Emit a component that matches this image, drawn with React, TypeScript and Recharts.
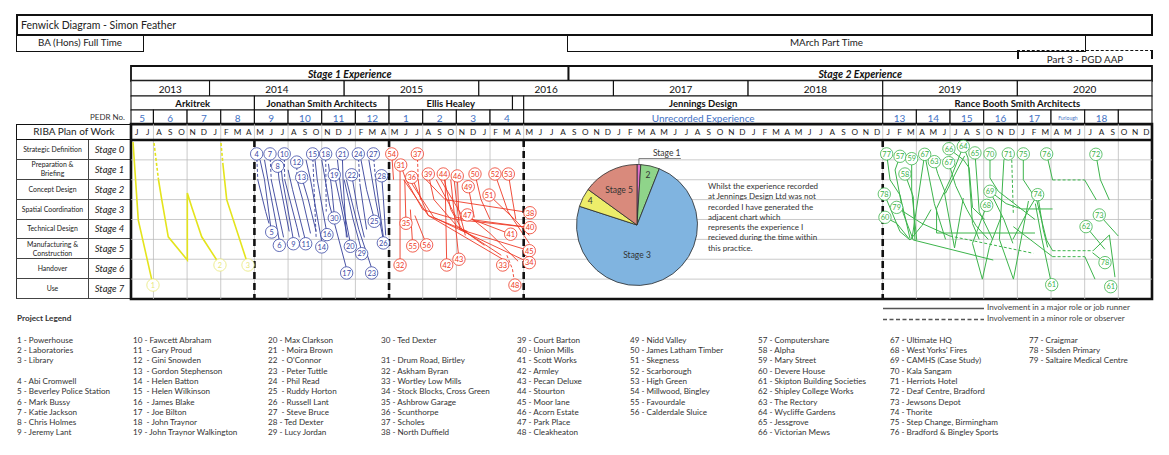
import React from "react";
import {
  ComposedChart,
  Line,
  Scatter,
  XAxis,
  YAxis,
  ReferenceArea,
  ReferenceLine,
  PieChart,
  Pie,
  Cell,
} from "recharts";

const FONT = "Lato, 'Open Sans', sans-serif";

type Pt = [number, number];
type Stroke = { p: number; dash?: boolean; pts: Pt[] };
type Tag = [string, number, number];
type Span = { label: string; from: number; to: number };

// month index 0 = June 2013, stage position 0 = top of Stage 0 row
const MONTHS = "JJASONDJFMAMJJASONDJFMAMJJASONDJFMAMJJASONDJFMAMJJASONDJFMAMJJASONDJFMAMJJASONDJFMAMJJASOND".split("");

const EXPERIENCE: Span[] = [
  { label: "Stage 1 Experience", from: 0, to: 39 },
  { label: "Stage 2 Experience", from: 39, to: 91 },
];

const YEARS: Span[] = [
  { label: "2013", from: 0, to: 7 },
  { label: "2014", from: 7, to: 19 },
  { label: "2015", from: 19, to: 31 },
  { label: "2016", from: 31, to: 43 },
  { label: "2017", from: 43, to: 55 },
  { label: "2018", from: 55, to: 67 },
  { label: "2019", from: 67, to: 79 },
  { label: "2020", from: 79, to: 91 },
];

const FIRMS: Span[] = [
  { label: "Arkitrek", from: 0, to: 11 },
  { label: "Jonathan Smith Architects", from: 11, to: 23 },
  { label: "Ellis Healey", from: 23, to: 34 },
  { label: "", from: 34, to: 35 },
  { label: "Jennings Design", from: 35, to: 67 },
  { label: "Rance Booth Smith Architects", from: 67, to: 91 },
];

const PEDR: Span[] = [
  { label: "5", from: 0, to: 2 },
  { label: "6", from: 2, to: 5 },
  { label: "7", from: 5, to: 8 },
  { label: "8", from: 8, to: 11 },
  { label: "9", from: 11, to: 14 },
  { label: "10", from: 14, to: 17 },
  { label: "11", from: 17, to: 20 },
  { label: "12", from: 20, to: 23 },
  { label: "1", from: 23, to: 26 },
  { label: "2", from: 26, to: 29 },
  { label: "3", from: 29, to: 32 },
  { label: "4", from: 32, to: 35 },
  { label: "Unrecorded Experience", from: 35, to: 67 },
  { label: "13", from: 67, to: 70 },
  { label: "14", from: 70, to: 73 },
  { label: "15", from: 73, to: 76 },
  { label: "16", from: 76, to: 79 },
  { label: "17", from: 79, to: 82 },
  { label: "Furlough", from: 82, to: 85 },
  { label: "18", from: 85, to: 88 },
  { label: "", from: 88, to: 91 },
];

const GRID_MONTHS = [2, 5, 8, 11, 14, 17, 20, 23, 26, 29, 32, 35, 67, 70, 73, 76, 79, 82, 85, 88];
const FIRM_BREAKS = [11, 23, 35, 67];

const STAGES = ["Stage 0", "Stage 1", "Stage 2", "Stage 3", "Stage 4", "Stage 5", "Stage 6", "Stage 7"];
const STAGE_NAMES = [
  "Strategic Definition",
  "Preparation &\nBriefing",
  "Concept Design",
  "Spatial Coordination",
  "Technical Design",
  "Manufacturing &\nConstruction",
  "Handover",
  "Use",
];

const ARKITREK_STROKES: Stroke[] = [
  { p: 1, pts: [[0.18, 0.1], [0.65, 4.03], [1.96, 7.3]] },
  { p: 2, dash: true, pts: [[2.05, 0.15], [2.45, 2.0]] },
  { p: 2, pts: [[2.45, 2.0], [2.74, 3.0], [3.32, 4.87], [5.02, 6.04], [5.02, 2.67], [5.44, 3.42], [6.3, 4.87], [7.93, 6.29]] },
  { p: 3, dash: true, pts: [[8.02, 0.15], [8.2, 1.26]] },
  { p: 3, pts: [[8.2, 1.26], [8.53, 3.0], [10.43, 6.29]] },
];
const ARKITREK_TAGS: Tag[] = [["1", 1.96, 7.3], ["2", 7.93, 6.29], ["3", 10.43, 6.29]];

const JSA_STROKES: Stroke[] = [
  { p: 4, dash: true, pts: [[11.2, 0.7], [11.3, 2.0]] },
  { p: 4, pts: [[11.3, 2.0], [12.0, 3.6], [12.3, 4.2]] },
  { p: 5, pts: [[11.5, 1.0], [11.9, 2.0], [12.45, 4.35]] },
  { p: 6, pts: [[11.9, 1.0], [12.2, 2.0], [13.2, 5.0]] },
  { p: 7, dash: true, pts: [[12.39, 0.7], [12.5, 2.0]] },
  { p: 7, pts: [[12.5, 2.0], [13.6, 4.9]] },
  { p: 8, pts: [[13.07, 1.32], [13.2, 2.0], [14.1, 4.6]] },
  { p: 9, pts: [[13.3, 1.0], [13.5, 2.0], [14.45, 4.95]] },
  { p: 10, dash: true, pts: [[13.66, 0.7], [13.7, 2.0]] },
  { p: 10, pts: [[13.7, 2.0], [14.8, 4.4], [15.0, 4.9]] },
  { p: 11, pts: [[14.0, 1.5], [14.4, 2.5], [15.5, 4.95]] },
  { p: 12, dash: true, pts: [[14.77, 1.11], [14.8, 2.0]] },
  { p: 12, pts: [[14.8, 2.0], [15.3, 3.0], [16.0, 4.7]] },
  { p: 13, pts: [[15.21, 1.88], [15.8, 3.0], [16.5, 4.6]] },
  { p: 14, pts: [[15.6, 1.0], [16.0, 2.0], [17.0, 5.1]] },
  { p: 15, dash: true, pts: [[16.19, 0.7], [16.5, 4.9]] },
  { p: 16, pts: [[16.4, 1.0], [16.6, 2.0], [17.4, 4.5]] },
  { p: 17, pts: [[17.0, 1.0], [17.7, 3.27], [19.2, 6.45]] },
  { p: 18, dash: true, pts: [[17.35, 0.7], [17.4, 3.6]] },
  { p: 19, pts: [[18.12, 1.75], [18.6, 3.0], [19.3, 4.9]] },
  { p: 20, pts: [[18.4, 1.0], [18.8, 3.0], [19.5, 5.05]] },
  { p: 21, pts: [[18.83, 0.7], [18.9, 2.0], [19.2, 4.9]] },
  { p: 22, pts: [[19.67, 1.75], [20.2, 3.5], [20.8, 4.9]] },
  { p: 23, pts: [[19.2, 2.0], [20.3, 4.5], [21.45, 6.45]] },
  { p: 24, dash: true, pts: [[20.26, 0.7], [20.4, 2.2]] },
  { p: 24, pts: [[20.4, 2.2], [21.0, 4.5]] },
  { p: 25, pts: [[20.5, 1.0], [21.0, 2.5], [21.6, 3.8]] },
  { p: 26, pts: [[21.2, 1.0], [21.8, 3.0], [22.45, 4.9]] },
  { p: 27, dash: true, pts: [[21.6, 0.7], [21.8, 2.0]] },
  { p: 27, pts: [[21.8, 2.0], [22.5, 4.9]] },
  { p: 28, pts: [[22.34, 1.8], [22.5, 3.0], [22.7, 4.8]] },
  { p: 29, pts: [[19.0, 2.0], [19.8, 4.0], [20.5, 5.45]] },
  { p: 30, pts: [[17.6, 1.2], [17.9, 2.5], [18.1, 3.65]] },
];
const JSA_TAGS: Tag[] = [
  ["4", 11.2, 0.7], ["7", 12.39, 0.7], ["10", 13.66, 0.7], ["15", 16.19, 0.7], ["18", 17.35, 0.7],
  ["21", 18.83, 0.7], ["24", 20.26, 0.7], ["27", 21.6, 0.7], ["8", 13.07, 1.32], ["12", 14.77, 1.11],
  ["19", 18.12, 1.75], ["22", 19.67, 1.75], ["28", 22.34, 1.8], ["13", 15.21, 1.88], ["5", 12.54, 4.63],
  ["6", 13.22, 5.3], ["9", 14.47, 5.22], ["11", 15.57, 5.22], ["14", 17.0, 5.38], ["16", 17.47, 4.76],
  ["30", 18.12, 3.92], ["25", 21.68, 4.09], ["26", 22.49, 5.18], ["20", 19.55, 5.35], ["29", 20.56, 5.72],
  ["17", 19.22, 6.69], ["23", 21.45, 6.69],
];

const ELLIS_STROKES: Stroke[] = [
  { p: 31, pts: [[24.04, 1.26], [24.5, 2.0], [26.0, 3.5], [29.0, 4.0], [35.5, 4.4]] },
  { p: 32, pts: [[23.98, 1.5], [23.98, 6.29]] },
  { p: 33, pts: [[24.3, 2.0], [26.5, 3.8], [33.13, 6.0]] },
  { p: 34, pts: [[24.8, 2.0], [27.0, 3.9], [35.5, 6.17]] },
  { p: 35, pts: [[24.4, 2.0], [24.51, 4.19]] },
  { p: 36, pts: [[25.02, 1.88], [26.5, 3.8], [30.0, 4.6]] },
  { p: 37, dash: true, pts: [[25.52, 0.7], [25.6, 2.0]] },
  { p: 37, pts: [[25.6, 2.0], [25.8, 3.0]] },
  { p: 38, pts: [[26.3, 2.0], [28.0, 3.0], [35.56, 3.66]] },
  { p: 39, pts: [[26.5, 1.71], [27.0, 3.0], [29.0, 4.3], [31.5, 5.3]] },
  { p: 40, pts: [[27.2, 2.0], [29.0, 3.9], [35.56, 4.41]] },
  { p: 41, pts: [[27.6, 2.0], [29.5, 3.8], [33.84, 4.74]] },
  { p: 42, pts: [[28.0, 2.0], [28.14, 6.29]] },
  { p: 43, pts: [[28.5, 2.0], [29.23, 6.0]] },
  { p: 44, pts: [[27.83, 1.71], [28.5, 3.5], [29.5, 4.5], [33.0, 5.8]] },
  { p: 45, pts: [[28.8, 2.0], [29.3, 4.5], [35.5, 5.57]] },
  { p: 46, pts: [[29.08, 1.81], [29.2, 3.5], [29.8, 4.8]] },
  { p: 47, pts: [[29.97, 3.77], [32.0, 4.7], [34.5, 6.1]] },
  { p: 48, dash: true, pts: [[33.5, 5.8], [34.0, 6.5], [34.22, 7.3]] },
  { p: 49, pts: [[30.06, 2.35], [30.6, 3.9]] },
  { p: 50, pts: [[30.66, 1.71], [31.2, 3.0], [32.0, 4.0]] },
  { p: 51, pts: [[31.91, 2.77], [34.2, 4.0], [35.5, 4.8]] },
  { p: 52, pts: [[32.44, 1.71], [33.6, 3.6], [35.5, 5.2]] },
  { p: 53, pts: [[33.63, 1.71], [34.0, 3.0], [34.3, 4.0]] },
  { p: 54, pts: [[23.24, 0.7], [23.4, 2.0]] },
  { p: 55, pts: [[24.9, 3.5], [25.11, 5.33]] },
  { p: 56, pts: [[25.3, 3.8], [26.35, 5.28]] },
];
const ELLIS_TAGS: Tag[] = [
  ["54", 23.24, 0.7], ["37", 25.52, 0.7], ["31", 24.04, 1.26], ["36", 25.02, 1.88], ["39", 26.5, 1.71],
  ["44", 27.83, 1.71], ["46", 29.08, 1.81], ["50", 30.66, 1.71], ["52", 32.44, 1.71], ["53", 33.63, 1.71],
  ["49", 30.06, 2.35], ["51", 31.91, 2.77], ["47", 29.97, 3.77], ["35", 24.51, 4.19], ["38", 35.56, 3.66],
  ["40", 35.56, 4.41], ["41", 33.84, 4.74], ["55", 25.11, 5.33], ["56", 26.35, 5.28], ["42", 28.14, 6.29],
  ["43", 29.23, 6.0], ["33", 33.13, 6.29], ["45", 35.5, 5.57], ["34", 35.5, 6.17], ["32", 23.98, 6.29],
  ["48", 34.22, 7.3],
];

const RBSA_STROKES: Stroke[] = [
  { p: 77, pts: [[67.35, 0.7], [67.65, 2.0], [68.54, 2.77], [69.43, 4.95]] },
  { p: 57, pts: [[68.54, 0.82], [68.1, 1.51], [68.83, 3.69], [69.72, 5.03], [76.85, 6.04]] },
  { p: 59, pts: [[69.58, 0.94], [69.58, 2.52], [70.03, 5.03]] },
  { p: 58, pts: [[68.98, 1.71], [69.72, 2.85], [69.87, 5.03]] },
  { p: 78, pts: [[67.14, 2.72], [68.54, 4.61], [69.43, 5.03]] },
  { p: 60, pts: [[67.2, 3.89], [68.24, 4.19], [69.43, 5.03], [70.5, 4.3], [71.3, 3.5]] },
  { p: 79, pts: [[68.24, 3.39], [70.5, 4.2], [72.99, 4.83]] },
  { p: 79, dash: true, pts: [[72.99, 4.83], [80.42, 5.7]] },
  { p: 67, pts: [[69.6, 5.0], [70.74, 0.72], [71.6, 3.2], [72.6, 5.0]] },
  { p: 63, pts: [[71.6, 1.09], [71.9, 1.68], [72.6, 2.68], [73.63, 1.51], [74.3, 0.8]] },
  { p: 67, pts: [[72.88, 1.14], [73.5, 2.3], [74.5, 3.5], [75.3, 4.3], [76.4, 5.0]] },
  { p: 66, pts: [[72.9, 0.44], [74.2, 1.0], [74.7, 1.4], [75.0, 3.4], [76.1, 4.0]] },
  { p: 64, pts: [[74.18, 0.32], [73.0, 2.0], [71.8, 3.44], [71.8, 4.68], [80.57, 4.68]] },
  { p: 64, pts: [[74.18, 0.32], [74.6, 0.9], [75.0, 4.2], [75.6, 5.0]] },
  { p: 65, pts: [[75.22, 0.65], [75.4, 2.0], [75.6, 3.6], [76.8, 5.0]] },
  { p: 66, pts: [[72.5, 2.66], [73.4, 5.43], [74.18, 2.92]] },
  { p: 68, pts: [[76.27, 3.29], [75.0, 5.2], [75.88, 7.0], [76.5, 5.4], [77.6, 3.8]] },
  { p: 71, pts: [[78.19, 0.7], [77.8, 1.0], [77.4, 5.0], [78.65, 7.0], [79.99, 3.07]] },
  { p: 71, dash: true, pts: [[78.5, 1.0], [78.64, 3.74]] },
  { p: 70, pts: [[76.56, 0.7], [76.56, 1.91], [77.3, 2.58], [80.57, 4.0]] },
  { p: 69, pts: [[76.56, 2.58], [78.0, 3.2], [79.38, 3.47], [82.14, 3.47]] },
  { p: 69, pts: [[76.56, 2.58], [77.8, 4.0], [78.6, 5.2]] },
  { p: 75, pts: [[79.53, 0.7], [79.53, 2.0], [80.72, 3.02], [81.6, 5.03], [82.14, 5.57]] },
  { p: 75, dash: true, pts: [[82.14, 5.57], [85.75, 5.57]] },
  { p: 75, pts: [[85.75, 5.57], [87.2, 4.78], [87.7, 6.9]] },
  { p: 74, pts: [[80.81, 2.75], [80.0, 3.5], [78.6, 5.0]] },
  { p: 74, pts: [[80.81, 2.75], [81.3, 4.5], [81.7, 5.4]] },
  { p: 61, pts: [[80.6, 3.2], [81.17, 4.93], [82.06, 7.28]] },
  { p: 77, pts: [[78.64, 4.36], [82.14, 5.87]] },
  { p: 77, dash: true, pts: [[82.14, 5.87], [85.02, 5.87]] },
  { p: 77, pts: [[85.02, 5.87], [85.92, 7.0]] },
  { p: 76, pts: [[81.61, 0.7], [82.14, 2.01]] },
  { p: 76, dash: true, pts: [[82.14, 2.01], [85.0, 2.01]] },
  { p: 76, pts: [[85.0, 2.01], [86.04, 3.02]] },
  { p: 72, pts: [[86.0, 0.72], [86.4, 2.0], [87.2, 3.02]] },
  { p: 73, pts: [[86.3, 3.77], [87.99, 4.83]] },
  { p: 62, pts: [[85.12, 4.36], [86.8, 5.5]] },
  { p: 78, pts: [[85.7, 5.67], [86.81, 6.17]] },
];
const RBSA_TAGS: Tag[] = [
  ["77", 67.35, 0.7], ["57", 68.54, 0.82], ["59", 69.58, 0.94], ["67", 70.74, 0.72], ["63", 71.6, 1.09],
  ["67", 72.88, 1.14], ["66", 72.9, 0.44], ["64", 74.18, 0.32], ["65", 75.22, 0.65], ["70", 76.56, 0.7],
  ["71", 78.19, 0.7], ["75", 79.53, 0.7], ["76", 81.61, 0.7], ["72", 86.0, 0.72], ["58", 68.98, 1.71],
  ["78", 67.14, 2.72], ["79", 68.24, 3.39], ["60", 67.2, 3.89], ["69", 76.56, 2.58], ["68", 76.27, 3.29],
  ["74", 80.81, 2.75], ["73", 86.3, 3.77], ["62", 85.12, 4.36], ["78", 86.81, 6.17], ["61", 82.06, 7.28],
  ["61", 87.32, 7.38],
];

const PIE_LABELS = ["Stage 1", "2", "Stage 3", "4", "Stage 5"];
const PIE_VALUES = [1, 5, 74, 5, 15];
const PIE_COLORS = ["#e070cc", "#8fd48a", "#80b4e0", "#eded6a", "#d98a7c"];

const JENNINGS_NOTE = [
  "Whilst the experience recorded",
  "at Jennings Design Ltd was not",
  "recorded I have generated the",
  "adjacent chart which",
  "represents the experience I",
  "recieved during the time within",
  "this practice.",
];

const LEGEND_COLUMNS: string[][] = [
  ["1 - Powerhouse", "2 - Laboratories", "3 - Library", "", "4 - Abi Cromwell", "5 - Beverley Police Station", "6 - Mark Bussy", "7 - Katie Jackson", "8 - Chris Holmes", "9 - Jeremy Lant"],
  ["10 - Fawcett Abraham", "11  - Gary Proud", "12  - Gini Snowden", "13  - Gordon Stephenson", "14  - Helen Batton", "15  - Helen Wilkinson", "16  - James Blake", "17  - Joe Bilton", "18  - John Traynor", "19 - John Traynor Walkington"],
  ["20 - Max Clarkson", "21  - Moira Brown", "22  - O'Connor", "23  - Peter Tuttle", "24  - Phil Read", "25  - Ruddy Horton", "26  - Russell Lant", "27  - Steve Bruce", "28 - Ted Dexter", "29 - Lucy Jordan"],
  ["30 - Ted Dexter", "", "31 - Drum Road, Birtley", "32 - Askham Byran", "33 - Wortley Low Mills", "34 - Stock Blocks, Cross Green", "35 - Ashbrow Garage", "36 - Scunthorpe", "37 - Scholes", "38 - North Duffield"],
  ["39 - Court Barton", "40 - Union Mills", "41 - Scott Works", "42 - Armley", "43 - Pecan Deluxe", "44 - Stourton", "45 - Moor lane", "46 - Acorn Estate", "47 - Park Place", "48 - Cleakheaton"],
  ["49 - Nidd Valley", "50 - James Latham Timber", "51 - Skegness", "52 - Scarborough", "53 - High Green", "54 - Millwood, Bingley", "55 - Favourdale", "56 - Calderdale Sluice"],
  ["57 - Computershare", "58 - Alpha", "59 - Mary Street", "60 - Devere House", "61 - Skipton Building Societies", "62 - Shipley College Works", "63 - The Rectory", "64 - Wycliffe Gardens", "65 - Jessgrove", "66 - Victorian Mews"],
  ["67 - Ultimate HQ", "68 - West Yorks' Fires", "69 - CAMHS (Case Study)", "70 - Kala Sangam", "71 - Herriots Hotel", "72 - Deaf Centre, Bradford", "73 - Jewsons Depot", "74 - Thorite", "75 - Step Change, Birmingham", "76 - Bradford & Bingley Sports"],
  ["77 - Craigmar", "78 - Silsden Primary", "79 - Saltaire Medical Centre"],
];
const LEGEND_X = [17, 133, 268, 381, 517, 630, 758, 890, 1029];

// layout of the header bands, in stage units above the plot
const ROW = {
  exp: [-3.723, -2.98],
  year: [-2.98, -2.21],
  firm: [-2.21, -1.51],
  pedr: [-1.51, -0.8],
  month: [-0.8, 0],
};

const GROUPS = [
  { strokes: ARKITREK_STROKES, tags: ARKITREK_TAGS, color: "#e4e41c", width: 1.6, tag: "#e8e87a" },
  { strokes: JSA_STROKES, tags: JSA_TAGS, color: "#34409a", width: 0.9, tag: "#3c4aa6" },
  { strokes: ELLIS_STROKES, tags: ELLIS_TAGS, color: "#ee3a26", width: 0.9, tag: "#ee3a26" },
  { strokes: RBSA_STROKES, tags: RBSA_TAGS, color: "#3cb44b", width: 1, tag: "#3cb44b" },
];

function cellText(text: string, style: React.CSSProperties) {
  return (props: any) => {
    const vb = props.viewBox;
    if (!vb || !text) return null;
    return (
      <text
        x={vb.x + vb.width / 2}
        y={vb.y + vb.height / 2 + 0.5}
        textAnchor="middle"
        dominantBaseline="central"
        style={{ fontFamily: FONT, fill: "#111", ...style }}
      >
        {text}
      </text>
    );
  };
}

const RAD = Math.PI / 180;
function pieLabel(p: any) {
  const { cx, cy, midAngle, outerRadius, index } = p;
  const text = PIE_LABELS[index];
  if (index === 0) {
    const x0 = cx + outerRadius * Math.cos(-midAngle * RAD);
    const y0 = cy + outerRadius * Math.sin(-midAngle * RAD);
    return (
      <g>
        <polyline points={`${x0},${y0} ${x0},${y0 - 6} ${x0 + 42},${y0 - 6}`} fill="none" stroke="#666" strokeWidth={0.8} />
        <text x={x0 + 14} y={y0 - 8.5} fontSize={8.5} fill="#333" style={{ fontFamily: FONT }}>
          {text}
        </text>
      </g>
    );
  }
  const ratio = [0, 0.84, 0.49, 0.87, 0.65][index];
  const ang = index === 2 ? -90 : midAngle;
  const x = cx + outerRadius * ratio * Math.cos(-ang * RAD);
  const y = cy + outerRadius * ratio * Math.sin(-ang * RAD);
  return (
    <text x={x} y={y} textAnchor="middle" dominantBaseline="central" fontSize={8.5} fill="#333" style={{ fontFamily: FONT }}>
      {text}
    </text>
  );
}

export default function App() {
  const monthPts = MONTHS.map((l, i) => ({ m: i + 0.5, s: -0.4, l }));
  const pieData = PIE_LABELS.map((name, i) => ({ name, v: PIE_VALUES[i] }));

  const headerCells = [
    ...EXPERIENCE.map((c) => ({ c, row: ROW.exp, w: 1.8, st: { fontSize: 10.5, fontWeight: 700, fontStyle: "italic" } as React.CSSProperties })),
    ...YEARS.map((c) => ({ c, row: ROW.year, w: 1.1, st: { fontSize: 10 } as React.CSSProperties })),
    ...FIRMS.map((c) => ({ c, row: ROW.firm, w: 1.1, st: { fontSize: 9.5, fontWeight: 700 } as React.CSSProperties })),
    ...PEDR.map((c) => ({
      c,
      row: ROW.pedr,
      w: 1.1,
      st: { fontSize: c.label === "Furlough" ? 5 : 10, fill: "#4472c4" } as React.CSSProperties,
    })),
  ];

  return (
    <div style={{ position: "absolute", left: 0, top: 0, width: 1169, height: 455, background: "#fff", fontFamily: FONT, color: "#222", overflow: "hidden" }}>
      {/* top boxes */}
      <div style={{ position: "absolute", left: 16, top: 14, width: 1137, height: 22, border: "2.2px solid #111", boxSizing: "border-box", fontSize: 10.5, lineHeight: "18px", paddingLeft: 3 }}>
        Fenwick Diagram - Simon Feather
      </div>
      <div style={{ position: "absolute", left: 16, top: 35, width: 128, height: 17, border: "1.8px solid #111", borderTop: "none", boxSizing: "border-box", fontSize: 9.8, lineHeight: "15px", textAlign: "center" }}>
        BA (Hons) Full Time
      </div>
      <div style={{ position: "absolute", left: 567, top: 35, width: 519, height: 17, border: "1.8px solid #111", borderTop: "none", boxSizing: "border-box", fontSize: 9.8, lineHeight: "15px", textAlign: "center" }}>
        MArch Part Time
      </div>
      <div style={{ position: "absolute", left: 1017, top: 50, width: 136, height: 9, borderTop: "1.8px dashed #111", borderLeft: "2px solid #111", borderRight: "2px solid #111", boxSizing: "border-box" }} />
      <div style={{ position: "absolute", left: 1017, top: 53, width: 136, fontSize: 9.8, textAlign: "center" }}>Part 3 - PGD AAP</div>

      {/* left labels */}
      <div style={{ position: "absolute", left: 16, top: 124, width: 116, height: 16, border: "1.5px solid #111", boxSizing: "border-box", fontSize: 10, lineHeight: "13px", textAlign: "center" }}>
        RIBA Plan of Work
      </div>
      <div style={{ position: "absolute", left: 60, top: 110, width: 65, height: 14, fontSize: 8, lineHeight: "14px", textAlign: "right", color: "#333" }}>PEDR No.</div>
      {STAGES.map((st, i) => (
        <React.Fragment key={st}>
          <div style={{ position: "absolute", left: 16, top: 140 + i * 19.875, width: 73, height: 19.875, borderLeft: "1.2px solid #333", borderBottom: "1px solid #444", borderRight: "1px solid #444", boxSizing: "border-box", display: "flex", alignItems: "center", justifyContent: "center", textAlign: "center", fontSize: 6.9, lineHeight: "9px", whiteSpace: "pre", color: "#222" }}>
            {STAGE_NAMES[i]}
          </div>
          <div style={{ position: "absolute", left: 88, top: 140 + i * 19.875, width: 43, height: 19.875, borderBottom: "1px solid #444", boxSizing: "border-box", display: "flex", alignItems: "center", justifyContent: "center", fontSize: 9.5, fontStyle: "italic", color: "#222" }}>
            {st}
          </div>
        </React.Fragment>
      ))}

      {/* main chart */}
      <div style={{ position: "absolute", left: 0, top: 0 }}>
        <ComposedChart width={1169} height={455} margin={{ top: 66, right: 17, bottom: 156, left: 131 }}>
          <XAxis type="number" dataKey="m" domain={[0, 91]} allowDataOverflow hide />
          <YAxis type="number" dataKey="s" domain={[-3.723, 8]} allowDataOverflow reversed hide />

          {headerCells.map(({ c, row, w, st }, i) => (
            <ReferenceArea
              key={`h${i}`}
              x1={c.from}
              x2={c.to}
              y1={row[0]}
              y2={row[1]}
              fill="#fff"
              fillOpacity={1}
              stroke="#111"
              strokeWidth={w}
              label={cellText(c.label, st)}
            />
          ))}

          {GRID_MONTHS.map((m) => (
            <ReferenceLine key={`gv${m}`} segment={[{ x: m, y: -0.8 }, { x: m, y: 8 }]} stroke="#bdbdbd" strokeWidth={0.8} />
          ))}
          {[1, 2, 3, 4, 5, 6, 7].map((s) => (
            <ReferenceLine key={`gh${s}`} segment={[{ x: 0, y: s }, { x: 91, y: s }]} stroke="#bdbdbd" strokeWidth={0.8} />
          ))}

          <Scatter
            data={monthPts}
            isAnimationActive={false}
            shape={(p: any) => (
              <text x={p.cx} y={p.cy} textAnchor="middle" dominantBaseline="central" fontSize={8.2} fill="#222" style={{ fontFamily: FONT }}>
                {p.payload.l}
              </text>
            )}
          />

          {GROUPS.flatMap((g, gi) =>
            g.strokes.map((st, si) => (
              <Line
                key={`l${gi}-${si}`}
                data={st.pts.map(([m, s]) => ({ m, s }))}
                dataKey="s"
                type="linear"
                stroke={g.color}
                strokeWidth={g.width}
                strokeDasharray={st.dash ? "3 2" : undefined}
                dot={false}
                activeDot={false}
                isAnimationActive={false}
              />
            ))
          )}

          {FIRM_BREAKS.map((m) => (
            <ReferenceLine key={`fb${m}`} segment={[{ x: m, y: 0 }, { x: m, y: 8 }]} stroke="#111" strokeWidth={2.6} strokeDasharray="7 4" />
          ))}

          {GROUPS.map((g, gi) => (
            <Scatter
              key={`t${gi}`}
              data={g.tags.map(([l, m, s]) => ({ m, s, l }))}
              isAnimationActive={false}
              shape={(p: any) => (
                <g>
                  <circle cx={p.cx} cy={p.cy} r={6.2} fill="#fff" stroke={g.tag} strokeWidth={0.8} />
                  <text x={p.cx} y={p.cy + 0.3} textAnchor="middle" dominantBaseline="central" fontSize={7.4} fill={g.tag} style={{ fontFamily: FONT }}>
                    {p.payload.l}
                  </text>
                </g>
              )}
            />
          ))}

          <ReferenceArea x1={0} x2={91} y1={-0.8} y2={8} fill="none" stroke="#111" strokeWidth={2.6} />
          <ReferenceLine segment={[{ x: 0, y: 0 }, { x: 91, y: 0 }]} stroke="#111" strokeWidth={2.6} />
        </ComposedChart>
      </div>

      {/* Jennings Design pie */}
      <div style={{ position: "absolute", left: 552, top: 140 }}>
        <PieChart width={160} height={160}>
          <Pie
            data={pieData}
            dataKey="v"
            cx={80}
            cy={80}
            outerRadius={60.5}
            startAngle={90}
            endAngle={-270}
            stroke="#2b2b2b"
            strokeWidth={0.8}
            label={pieLabel}
            labelLine={false}
            isAnimationActive={false}
          >
            {pieData.map((d, i) => (
              <Cell key={d.name} fill={PIE_COLORS[i]} />
            ))}
          </Pie>
        </PieChart>
      </div>
      <div style={{ position: "absolute", left: 708, top: 181, fontSize: 8, lineHeight: "10.3px", color: "#333", whiteSpace: "pre" }}>
        {JENNINGS_NOTE.join("\n")}
      </div>

      {/* line style key */}
      <svg style={{ position: "absolute", left: 0, top: 0 }} width={1169} height={455} pointerEvents="none">
        <line x1={883} y1={308.5} x2={984} y2={308.5} stroke="#555" strokeWidth={1.3} />
        <line x1={883} y1={319.5} x2={984} y2={319.5} stroke="#555" strokeWidth={1.3} strokeDasharray="4 2.5" />
      </svg>
      <div style={{ position: "absolute", left: 987, top: 302, fontSize: 8, lineHeight: "11px", color: "#444", whiteSpace: "pre" }}>
        {"Involvement in a major role or job runner\nInvolvement in a minor role or observer"}
      </div>

      {/* project legend */}
      <div style={{ position: "absolute", left: 17, top: 313, fontSize: 8.2, fontWeight: 700, color: "#333" }}>Project Legend</div>
      {LEGEND_COLUMNS.map((col, ci) => (
        <div key={ci} style={{ position: "absolute", left: LEGEND_X[ci], top: 334.8, fontSize: 8.1, lineHeight: "10.3px", color: "#333", whiteSpace: "pre" }}>
          {col.map((t) => t || " ").join("\n")}
        </div>
      ))}
    </div>
  );
}
